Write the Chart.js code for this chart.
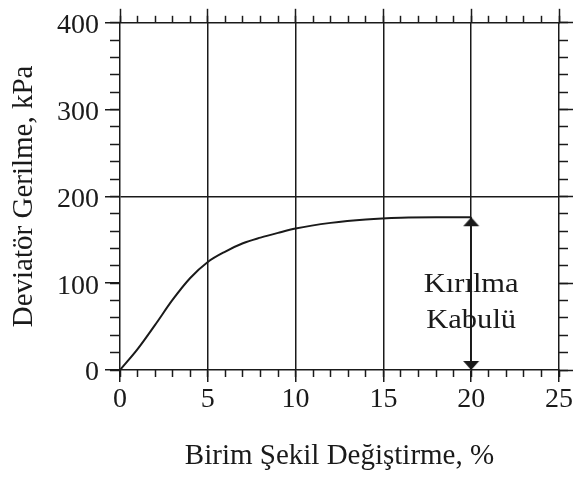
<!DOCTYPE html>
<html>
<head>
<meta charset="utf-8">
<script src="https://cdn.jsdelivr.net/npm/chart.js@4.4.0/dist/chart.umd.min.js"></script>
<style>
  html, body { margin: 0; padding: 0; background: #ffffff; }
  #wrap { width: 574px; height: 481px; }
</style>
</head>
<body>
<div id="wrap"><canvas id="c" width="574" height="481"></canvas></div>
<script>
// Stress–strain curve (axial strain %, deviator stress kPa)
const strain = [0, 1, 2, 3, 4, 5, 6, 7, 8, 9, 10, 12, 14, 16, 18, 20];
const stress = [0, 24, 52, 81, 106, 124.5, 136.5, 146, 152.5, 158, 163, 169.5, 173.5, 175.5, 176, 176];

// Failure criterion marker
const failureStrain = 20;
const failureStress = 176;
const noteLines = ['Kırılma', 'Kabulü'];

// Axis ticks
const xMajorTicks = [0, 5, 10, 15, 20, 25];
const xMinorTicks = [0, 1, 2, 3, 4, 5, 6, 7, 8, 9, 10, 11, 12, 13, 14, 15, 16, 17, 18, 19, 20, 21, 22, 23, 24, 25];
const yMajorTicks = [0, 100, 200, 300, 400];
const yMinorTicks = [0, 20, 40, 60, 80, 100, 120, 140, 160, 180, 200, 220, 240, 260, 280, 300, 320, 340, 360, 380, 400];

const xTitle = 'Birim Şekil Değiştirme, %';
const yTitle = 'Deviatör Gerilme, kPa';

const INK = '#1a1a1a';
const SERIF = "'Liberation Serif', 'Times New Roman', serif";
const CLEAR = 'rgba(0,0,0,0)';

// Arrow head image: tip at the image centre, body below it
function makeArrowHead() {
  const c = document.createElement('canvas');
  c.width = 20; c.height = 20;
  const g = c.getContext('2d');
  g.fillStyle = INK;
  g.beginPath();
  g.moveTo(10, 10);
  g.lineTo(18, 19);
  g.lineTo(2, 19);
  g.closePath();
  g.fill();
  return c;
}
const arrowHead = makeArrowHead();

const setTicks = (values) => (scale) => { scale.ticks = values.map(v => ({ value: v })); };

function minorAxis(position, min, max, ticks, len) {
  const horizontal = position === 'top' || position === 'bottom';
  return {
    type: 'linear', position, min, max, weight: 0,
    afterBuildTicks: setTicks(ticks),
    ticks: { display: false },
    grid: { drawOnChartArea: false, tickLength: len, tickColor: INK, tickWidth: 1.5, color: CLEAR },
    border: { display: false },
    afterFit: (s) => { if (horizontal) s.height = 0; else s.width = 0; }
  };
}

// Note text beside the failure arrow
const notePlugin = {
  id: 'failureNote',
  afterDatasetsDraw(chart) {
    const { ctx, scales } = chart;
    const x = scales.x.getPixelForValue(failureStrain);
    const yc = scales.y.getPixelForValue(failureStress * 0.44);
    const gap = 36;
    ctx.save();
    ctx.fillStyle = INK;
    ctx.font = '27px ' + SERIF;
    ctx.textAlign = 'center';
    ctx.textBaseline = 'middle';
    noteLines.forEach((line, i) => {
      const y = yc + (i - (noteLines.length - 1) / 2) * gap;
      ctx.save();
      ctx.translate(x, y);
      ctx.scale(1.13, 1);
      ctx.fillText(line, 0, 0);
      ctx.restore();
    });
    ctx.restore();
  }
};

new Chart(document.getElementById('c'), {
  type: 'line',
  data: {
    datasets: [
      {
        data: strain.map((s, i) => ({ x: s, y: stress[i] })),
        borderColor: INK,
        borderWidth: 2,
        pointRadius: 0,
        cubicInterpolationMode: 'monotone',
        fill: false,
        xAxisID: 'x', yAxisID: 'y'
      },
      {
        data: [{ x: failureStrain, y: failureStress }, { x: failureStrain, y: 0 }],
        borderColor: INK,
        borderWidth: 1.5,
        pointStyle: arrowHead,
        pointRadius: 6,
        pointRotation: [0, 180],
        fill: false,
        xAxisID: 'x', yAxisID: 'y'
      }
    ]
  },
  options: {
    responsive: false,
    animation: false,
    devicePixelRatio: 1,
    layout: { padding: 0 },
    plugins: { legend: { display: false }, tooltip: { enabled: false } },
    scales: {
      x: {
        type: 'linear', position: 'bottom', min: 0, max: 25, weight: 1,
        afterBuildTicks: setTicks(xMajorTicks),
        ticks: { color: INK, font: { family: SERIF, size: 28 }, padding: 1, maxRotation: 0, autoSkip: false },
        grid: {
          color: (c) => (c.tick && c.tick.value > 0 && c.tick.value < 25) ? INK : CLEAR,
          lineWidth: 1.5, tickLength: 12, tickColor: INK, tickWidth: 1.5
        },
        border: { display: true, color: INK, width: 1.5 },
        title: { display: true, text: xTitle, color: INK, font: { family: SERIF, size: 29 }, padding: { top: 0, bottom: 7 } },
        afterFit: (s) => { s.height = 111; }
      },
      xb: minorAxis('bottom', 0, 25, xMinorTicks, 7),
      xt: {
        type: 'linear', position: 'top', min: 0, max: 25, weight: 1,
        afterBuildTicks: setTicks(xMajorTicks),
        ticks: { display: false },
        grid: { drawOnChartArea: false, tickLength: 14, tickColor: INK, tickWidth: 1.5, color: CLEAR },
        border: { display: true, color: INK, width: 1.5 },
        afterFit: (s) => { s.height = 19; }
      },
      xt2: minorAxis('top', 0, 25, xMinorTicks, 7),
      y: {
        type: 'linear', position: 'left', min: 0, max: 400, weight: 1,
        afterBuildTicks: setTicks(yMajorTicks),
        ticks: { color: INK, font: { family: SERIF, size: 28 }, padding: 6, labelOffset: 3 },
        grid: {
          color: (c) => (c.tick && c.tick.value === 200) ? INK : CLEAR,
          lineWidth: 1.5, tickLength: 15, tickColor: INK, tickWidth: 1.5
        },
        border: { display: true, color: INK, width: 1.5 },
        title: { display: true, text: yTitle, color: INK, font: { family: SERIF, size: 29 }, padding: { top: 7, bottom: 0 } },
        afterFit: (s) => { s.width = 120; }
      },
      yl2: minorAxis('left', 0, 400, yMinorTicks, 10),
      yr: {
        type: 'linear', position: 'right', min: 0, max: 400, weight: 1,
        afterBuildTicks: setTicks(yMajorTicks),
        ticks: { display: false },
        grid: { drawOnChartArea: false, tickLength: 14, tickColor: INK, tickWidth: 1.5, color: CLEAR },
        border: { display: true, color: INK, width: 1.5 },
        afterFit: (s) => { s.width = 15; }
      },
      yr2: minorAxis('right', 0, 400, yMinorTicks, 9)
    }
  },
  plugins: [notePlugin]
});
</script>
</body>
</html>
